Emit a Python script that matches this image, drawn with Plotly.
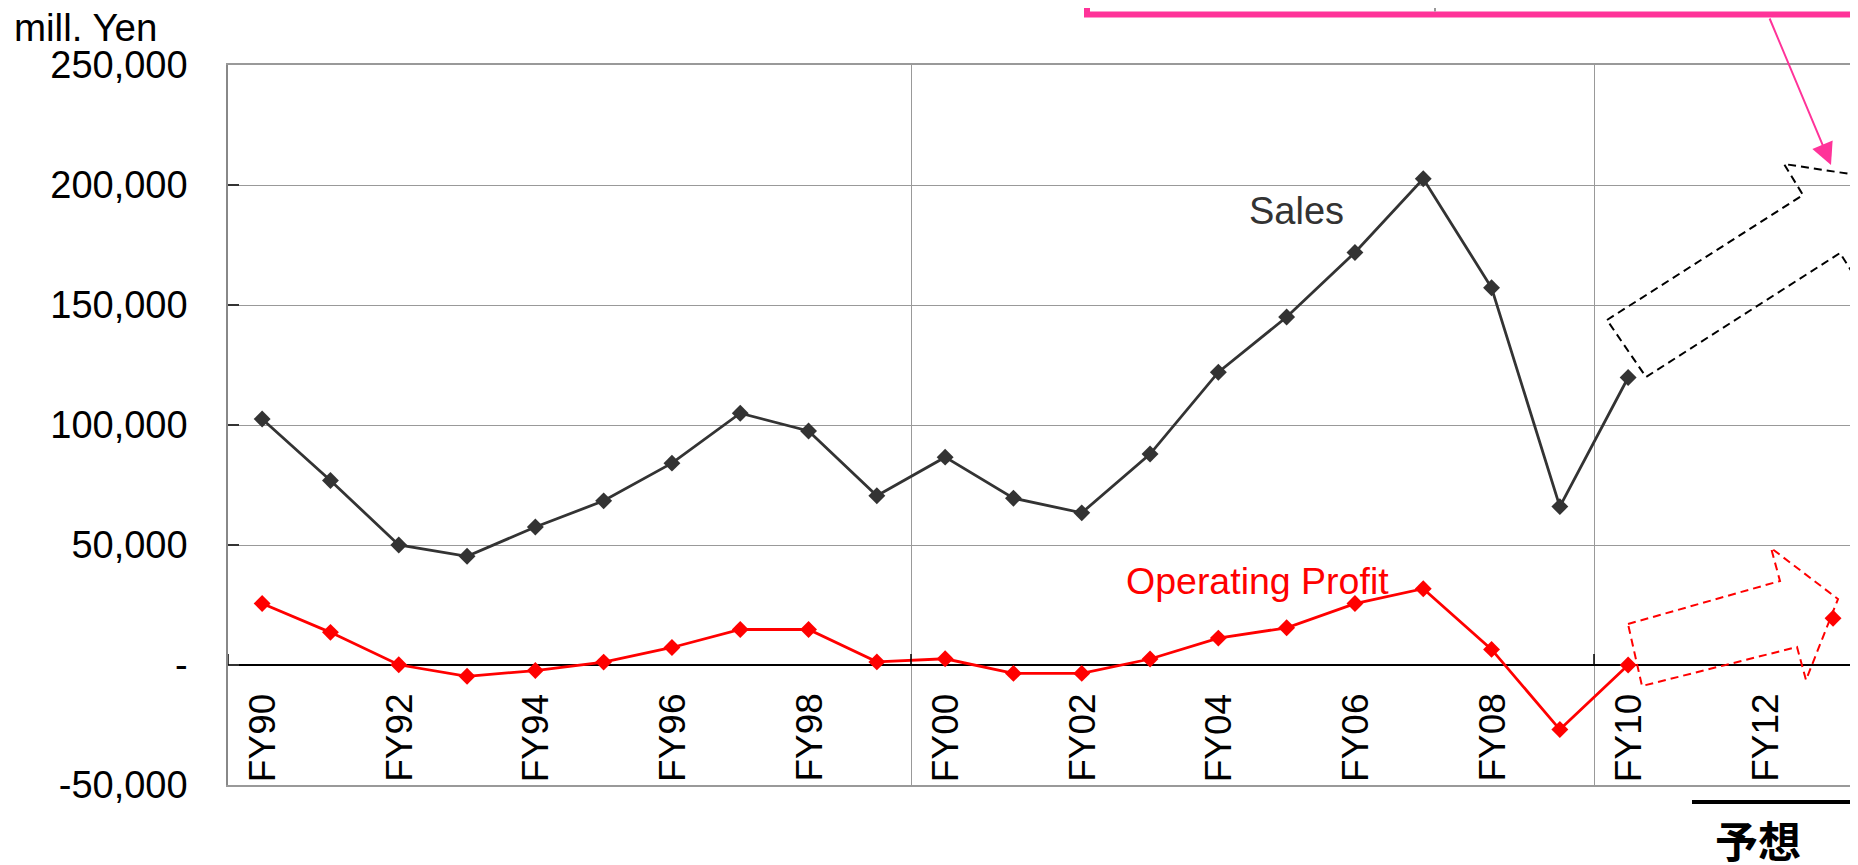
import plotly.graph_objects as go

# ---------------- data ----------------
fiscal_years = ["FY90", "FY91", "FY92", "FY93", "FY94", "FY95", "FY96", "FY97", "FY98", "FY99",
                "FY00", "FY01", "FY02", "FY03", "FY04", "FY05", "FY06", "FY07", "FY08", "FY09",
                "FY10", "FY11", "FY12", "FY13"]
sales = [102500, 76900, 50000, 45300, 57500, 68400, 84100, 104900, 97500, 70500,
         86600, 69500, 63400, 87900, 122000, 145000, 171900, 202600, 157200, 66000,
         119800]
operating_profit = [25600, 13600, 100, -4700, -2300, 1200, 7300, 14800, 14800, 1300,
                    2600, -3500, -3500, 2500, 11200, 15500, 25600, 31800, 6500, -26900,
                    0]
op_forecast_year = "FY13"
op_forecast_value = 19500
y_tick_values = [-50000, 0, 50000, 100000, 150000, 200000, 250000]
y_tick_labels = ["-50,000", "-", "50,000", "100,000", "150,000", "200,000", "250,000"]

# ---------------- layout constants ----------------
OFF = 8                     # page body margin offset
W, H = 1858 - OFF, 865 - OFF
L, R, T, B = 220, 0, 57, 80
PW, PH = W - L - R, H - T - B
CAT_W = 68.3
X_RANGE = [-0.5, -0.5 + PW / CAT_W]
Y_RANGE = [-50000, 250000]
FONT = "Liberation Sans, Arial, sans-serif"
PINK = "#FF3399"


def paper(px, py):
    """screen pixel (as seen in page) -> paper coords"""
    fx, fy = px - OFF, py - OFF
    return (fx - L) / PW, (H - B - fy) / PH


def path_from_px(points):
    parts = []
    for i, (px, py) in enumerate(points):
        x, y = paper(px, py)
        parts.append(("M" if i == 0 else "L") + f"{x:.5f},{y:.5f}")
    return " ".join(parts) + " Z"


idx = list(range(len(fiscal_years)))

fig = go.Figure()
fig.add_trace(go.Scatter(
    x=idx[:len(sales)], y=sales, mode="lines+markers", name="Sales",
    line=dict(color="#333333", width=2.8),
    marker=dict(symbol="diamond", size=13, color="#333333"),
    showlegend=False, cliponaxis=False))
fig.add_trace(go.Scatter(
    x=idx[:len(operating_profit)], y=operating_profit, mode="lines+markers",
    name="Operating Profit",
    line=dict(color="#FF0000", width=2.8),
    marker=dict(symbol="diamond", size=13, color="#FF0000"),
    showlegend=False, cliponaxis=False))
fig.add_trace(go.Scatter(
    x=[fiscal_years.index(op_forecast_year)], y=[op_forecast_value], mode="markers",
    marker=dict(symbol="diamond", size=13, color="#FF0000"), showlegend=False))

shapes = []
# small category-axis tick marks on the zero line (every 10 categories)
for b in [-0.5, 9.5, 19.5]:
    shapes.append(dict(type="line", xref="x", yref="y", x0=b, x1=b, y0=0,
                       y1=11 / PH * (Y_RANGE[1] - Y_RANGE[0]),
                       line=dict(color="#000000", width=1.5)))

# black dashed block arrow (sales outlook)
shapes.append(dict(type="path", xref="paper", yref="paper",
                   path=path_from_px([(1607, 320), (1803, 195), (1784, 164), (1890, 180),
                                      (1859, 283), (1840, 253), (1646, 377)]),
                   line=dict(color="#000000", width=2, dash="8px,5px"),
                   fillcolor="rgba(0,0,0,0)"))
# red dashed block arrow (profit outlook)
shapes.append(dict(type="path", xref="paper", yref="paper",
                   path=path_from_px([(1628, 624), (1780, 581), (1771, 548), (1838, 599),
                                      (1806, 680), (1797, 647), (1642, 686)]),
                   line=dict(color="#FF0000", width=2, dash="8px,5px"),
                   fillcolor="rgba(0,0,0,0)"))
# pink box at top (partially visible)
x0, y0 = paper(1087, -40)
x1, y1 = paper(1854, 14.5)
shapes.append(dict(type="rect", xref="paper", yref="paper", x0=x0, x1=x1, y0=y0, y1=y1,
                   line=dict(color=PINK, width=6), fillcolor="white"))
dx0, dy0 = paper(1435, -40)
dx1, dy1 = paper(1435, 11.5)
shapes.append(dict(type="line", xref="paper", yref="paper", x0=dx0, x1=dx1, y0=dy0, y1=dy1,
                   line=dict(color="#999999", width=2)))
# forecast bracket line
fx0, fy = paper(1692, 802)
fx1, _ = paper(1870, 802)
shapes.append(dict(type="line", xref="paper", yref="paper", x0=fx0, x1=fx1, y0=fy, y1=fy,
                   line=dict(color="#000000", width=4)))

annotations = []
# rotated category labels
for i in range(0, len(fiscal_years), 2):
    if i > X_RANGE[1]:
        continue
    annotations.append(dict(x=i, y=Y_RANGE[0], xref="x", yref="y", text=fiscal_years[i],
                            textangle=-90, showarrow=False, xanchor="center", yanchor="bottom",
                            yshift=1, font=dict(family=FONT, size=37, color="#000000")))
# unit label
ux, uy = paper(13, 27.5)
annotations.append(dict(x=ux, y=uy, xref="paper", yref="paper", text="mill. Yen",
                        showarrow=False, xanchor="left", yanchor="middle", borderpad=0,
                        font=dict(family=FONT, size=38.5, color="#000000")))
# series labels
sx, sy = paper(1296, 211)
annotations.append(dict(x=sx, y=sy, xref="paper", yref="paper", text="Sales",
                        showarrow=False, xanchor="center", yanchor="middle",
                        font=dict(family=FONT, size=38, color="#333333")))
ox, oy = paper(1257, 581)
annotations.append(dict(x=ox, y=oy, xref="paper", yref="paper", text="Operating Profit",
                        showarrow=False, xanchor="center", yanchor="middle",
                        font=dict(family=FONT, size=37.5, color="#FF0000")))
# forecast label
kx, ky = paper(1758, 839)
annotations.append(dict(x=kx, y=ky, xref="paper", yref="paper", text="<b>予想</b>",
                        showarrow=False, xanchor="center", yanchor="middle", borderpad=0,
                        font=dict(family="Noto Sans CJK JP", size=43, color="#000000")))
# pink pointer arrow
hx, hy = paper(1831, 165)
annotations.append(dict(x=hx, y=hy, xref="paper", yref="paper", text="",
                        showarrow=True, ax=1769 - 1831, ay=17 - 165, axref="pixel", ayref="pixel",
                        arrowhead=2, arrowsize=2.2, arrowwidth=2, arrowcolor=PINK, standoff=0))

fig.update_layout(
    width=W, height=H, template="none",
    margin=dict(l=L, r=R, t=T, b=B, pad=0),
    paper_bgcolor="white", plot_bgcolor="white",
    showlegend=False,
    xaxis=dict(type="linear", range=X_RANGE, tickmode="linear", tick0=-0.5, dtick=10,
               showgrid=True, gridcolor="#999999", gridwidth=1, showticklabels=False,
               ticks="", zeroline=False, showline=True, linecolor="#999999", linewidth=1.5,
               mirror=True, automargin=False),
    yaxis=dict(range=Y_RANGE, tickmode="array", tickvals=y_tick_values, ticktext=y_tick_labels,
               showgrid=True, gridcolor="#999999", gridwidth=1,
               showline=True, linecolor="#888888", linewidth=1.5,
               ticks="inside", ticklen=11, tickcolor="#333333", tickwidth=1.5,
               ticklabelstandoff=31,
               zeroline=True, zerolinecolor="#000000", zerolinewidth=1.5,
               tickfont=dict(family=FONT, size=38, color="#000000"), automargin=False),
    shapes=shapes, annotations=annotations,
)

fig.write_html("out.html")
